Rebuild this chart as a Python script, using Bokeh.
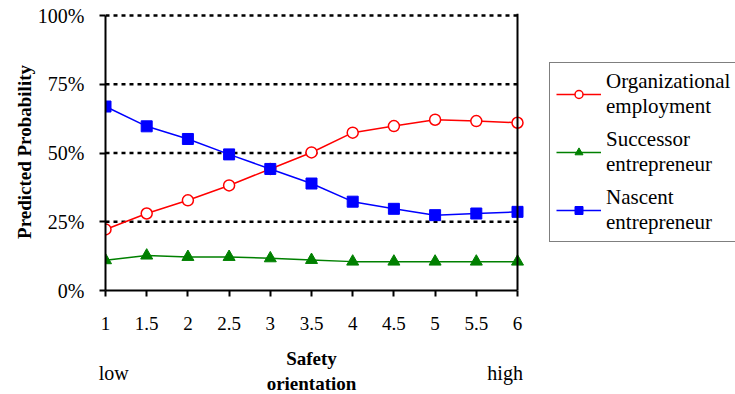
from bokeh.plotting import figure
from bokeh.models import (FixedTicker, NumeralTickFormatter, LinearAxis, Legend, LegendItem,
                          Range1d, Span)
from bokeh.embed import file_html
from bokeh.resources import INLINE

x = [1, 1.5, 2, 2.5, 3, 3.5, 4, 4.5, 5, 5.5, 6]
x_labels = ["1", "1.5", "2", "2.5", "3", "3.5", "4", "4.5", "5", "5.5", "6"]
organizational = [0.222, 0.280, 0.328, 0.382, 0.442, 0.502, 0.574, 0.598, 0.621, 0.616, 0.610]
successor = [0.110, 0.127, 0.122, 0.122, 0.117, 0.111, 0.105, 0.105, 0.105, 0.105, 0.105]
nascent = [0.669, 0.597, 0.551, 0.495, 0.442, 0.389, 0.323, 0.297, 0.274, 0.280, 0.286]
y_ticks = [0, 0.25, 0.5, 0.75, 1.0]
grid_ticks = [0.25, 0.5, 0.75, 1.0]
x_title = {3.5: "Safety\norientation"}
scale_ends = {1.1: "low", 5.85: "high"}

FONT = "Liberation Serif"

# plot area: 412 px for the data, the rest of the 630 px frame hosts the legend
PLOT_W, FRAME_W = 412, 630
PLOT_H, TOP_PAD = 275, 2
x_end = x[0] + (x[-1] - x[0]) * FRAME_W / PLOT_W
y_end = y_ticks[-1] * (1 + TOP_PAD / PLOT_H)

p = figure(frame_width=FRAME_W, frame_height=PLOT_H + TOP_PAD, output_backend="svg",
           toolbar_location=None,
           x_range=Range1d(x[0], x_end), y_range=Range1d(0, y_end),
           min_border_left=105, min_border_right=0, min_border_top=13, min_border_bottom=0)
p.outline_line_color = None
p.background_fill_color = "white"
p.border_fill_color = "white"

# axes
p.xaxis.ticker = FixedTicker(ticks=x)
p.xaxis.bounds = (x[0], x[-1])
p.xaxis.major_label_overrides = {v: s for v, s in zip(x, x_labels)}
p.yaxis.ticker = FixedTicker(ticks=y_ticks)
p.yaxis.bounds = (y_ticks[0], y_ticks[-1])
p.yaxis.formatter = NumeralTickFormatter(format="0%")
for ax in (p.xaxis[0], p.yaxis[0]):
    ax.axis_line_color = "black"
    ax.axis_line_width = 2
    ax.major_tick_line_color = "black"
    ax.major_tick_line_width = 2
    ax.major_tick_in = 0
    ax.major_tick_out = 6
    ax.minor_tick_line_color = None
    ax.major_label_text_font = FONT
    ax.major_label_text_font_size = "19px"
    ax.major_label_text_color = "black"
    ax.axis_label_text_color = "black"
    ax.axis_label_text_font = FONT
    ax.axis_label_text_font_style = "bold"
p.yaxis.major_label_text_font_size = "20px"
p.xaxis.major_label_standoff = 20
p.yaxis.major_label_standoff = 15

p.yaxis.axis_label = "Predicted Probability"
p.yaxis.axis_label_text_font_size = "19px"
p.yaxis.axis_label_standoff = 0

# axis title "Safety orientation", centred under the data part of the axis
title_axis = LinearAxis(ticker=FixedTicker(ticks=list(x_title.keys())),
                        major_label_overrides=x_title,
                        axis_line_color=None, major_tick_line_color=None,
                        minor_tick_line_color=None, major_tick_in=0, major_tick_out=0,
                        major_label_text_font=FONT, major_label_text_font_size="19px",
                        major_label_text_font_style="bold",
                        major_label_text_color="black", major_label_standoff=15)
p.add_layout(title_axis, "below")

# low / high labels under the scale
ends = LinearAxis(ticker=FixedTicker(ticks=list(scale_ends.keys())),
                  major_label_overrides=scale_ends,
                  axis_line_color=None, major_tick_line_color=None, minor_tick_line_color=None,
                  major_tick_in=0, major_tick_out=0,
                  major_label_text_font=FONT, major_label_text_font_size="20px",
                  major_label_text_color="black", major_label_standoff=-35)
p.add_layout(ends, "below")

# right border of the plot area
p.add_layout(Span(location=x[-1], dimension="height", line_color="black", line_width=2))

# grid (limited to the plot area)
p.xgrid.grid_line_color = None
p.ygrid.grid_line_color = None
p.segment(x0=[x[0]] * len(grid_ticks), x1=[x[-1]] * len(grid_ticks),
          y0=grid_ticks, y1=grid_ticks, line_color="black", line_width=2.5,
          line_dash="4 4", level="underlay")

# series
l1 = p.line(x, organizational, line_color="#FF0000", line_width=1.5)
m1 = p.scatter(x, organizational, marker="circle", size=11, fill_color="white",
               line_color="#FF0000", line_width=1.5)
l2 = p.line(x, successor, line_color="#008000", line_width=1.5)
m2 = p.scatter(x, successor, marker="triangle", size=12, fill_color="#008000",
               line_color="#008000")
l3 = p.line(x, nascent, line_color="#0000FF", line_width=1.5)
m3 = p.scatter(x, nascent, marker="square", size=11, fill_color="#0000FF",
               line_color="#0000FF")

legend = Legend(items=[
    LegendItem(label="Organizational\nemployment", renderers=[l1, m1]),
    LegendItem(label="Successor\nentrepreneur", renderers=[l2, m2]),
    LegendItem(label="Nascent\nentrepreneur", renderers=[l3, m3]),
], location=(444, 48))
legend.border_line_color = "black"
legend.border_line_width = 1.5
legend.background_fill_color = "white"
legend.background_fill_alpha = 1
legend.label_text_font = FONT
legend.label_text_font_size = "21px"
legend.label_text_color = "black"
legend.glyph_width = 45
legend.label_standoff = 5
legend.spacing = 8
legend.padding = 6
legend.margin = 0
p.add_layout(legend, "center")

open("out.html", "w").write(file_html(p, INLINE))
